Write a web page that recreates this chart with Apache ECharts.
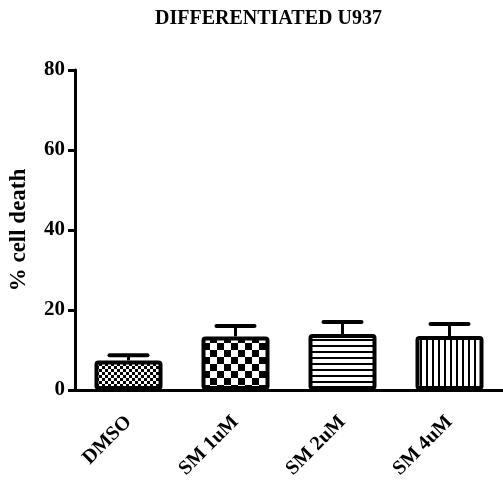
<!DOCTYPE html>
<html>
<head>
<meta charset="utf-8">
<script src="https://cdn.jsdelivr.net/npm/echarts@6/dist/echarts.min.js"></script>
<style>
  html, body { margin: 0; padding: 0; background: #fff; }
  #chart { width: 503px; height: 487px; }
</style>
</head>
<body>
<div id="chart"></div>
<script>
const categories = ['DMSO', 'SM 1uM', 'SM 2uM', 'SM 4uM'];
const means = [7.4, 13.4, 14, 13.5];
const sems = [1.3, 2.6, 3, 3];
const yTicks = [0, 20, 40, 60, 80];

const font = 'Liberation Serif';

// small canvas tiles used as bar fills
function makeTile(w, h, draw) {
  const c = document.createElement('canvas');
  c.width = w; c.height = h;
  const ctx = c.getContext('2d');
  ctx.fillStyle = '#fff';
  ctx.fillRect(0, 0, w, h);
  ctx.fillStyle = '#000';
  draw(ctx);
  return { image: c, repeat: 'repeat' };
}
const fills = [
  makeTile(6, 6, ctx => { ctx.fillRect(0, 0, 3, 3); ctx.fillRect(3, 3, 3, 3); }),
  makeTile(14, 14, ctx => { ctx.fillRect(0, 0, 7, 7); ctx.fillRect(7, 7, 7, 7); }),
  makeTile(6, 6, ctx => { ctx.fillRect(0, 3, 6, 2); }),
  makeTile(6, 6, ctx => { ctx.fillRect(0, 0, 2, 6); })
];

var myChart = echarts.init(document.getElementById('chart'));
myChart.setOption({
  animation: false,
  textStyle: { fontFamily: font, fontWeight: 'bold', color: '#000' },
  title: {
    text: 'DIFFERENTIATED U937',
    left: 150,
    top: 4,
    textStyle: { fontFamily: font, fontWeight: 'bold', fontSize: 20, color: '#000' }
  },
  grid: { left: 74, right: 0, top: 70, bottom: 97 },
  xAxis: {
    type: 'category',
    data: categories,
    axisLine: { lineStyle: { color: '#000', width: 3 } },
    axisTick: { alignWithLabel: true, length: 7, lineStyle: { color: '#000', width: 3 } },
    axisLabel: {
      rotate: 45,
      margin: 29,
      fontFamily: font,
      fontWeight: 'bold',
      fontSize: 20,
      color: '#000'
    }
  },
  yAxis: {
    type: 'value',
    min: 0,
    max: 80,
    interval: 20,
    name: '% cell death',
    nameLocation: 'middle',
    nameRotate: 90,
    nameGap: 44,
    nameTextStyle: { fontFamily: font, fontWeight: 'bold', fontSize: 23, color: '#000' },
    splitLine: { show: false },
    axisLine: { show: true, lineStyle: { color: '#000', width: 3 } },
    axisTick: { show: true, length: 7, lineStyle: { color: '#000', width: 3 } },
    axisLabel: {
      margin: 10,
      fontFamily: font,
      fontWeight: 'bold',
      fontSize: 21,
      color: '#000',
      formatter: v => yTicks.includes(v) ? String(v) : ''
    }
  },
  series: [
    {
      type: 'bar',
      barWidth: 68,
      data: means.map((v, i) => ({
        value: v,
        itemStyle: { color: fills[i] }
      })),
      itemStyle: { borderColor: '#000', borderWidth: 4, borderRadius: 2 },
      z: 2
    },
    {
      type: 'custom',
      z: 1,
      data: means.map((v, i) => [i, v, v + sems[i]]),
      renderItem(params, api) {
        const base = api.coord([api.value(0), api.value(1)]);
        const top = api.coord([api.value(0), api.value(2)]);
        const half = 19;
        return {
          type: 'group',
          children: [
            {
              type: 'line',
              shape: { x1: base[0], y1: base[1], x2: top[0], y2: top[1] },
              style: { stroke: '#000', lineWidth: 3 }
            },
            {
              type: 'line',
              shape: { x1: top[0] - half, y1: top[1], x2: top[0] + half, y2: top[1] },
              style: { stroke: '#000', lineWidth: 4, lineCap: 'round' }
            }
          ]
        };
      }
    }
  ]
});
</script>
</body>
</html>
